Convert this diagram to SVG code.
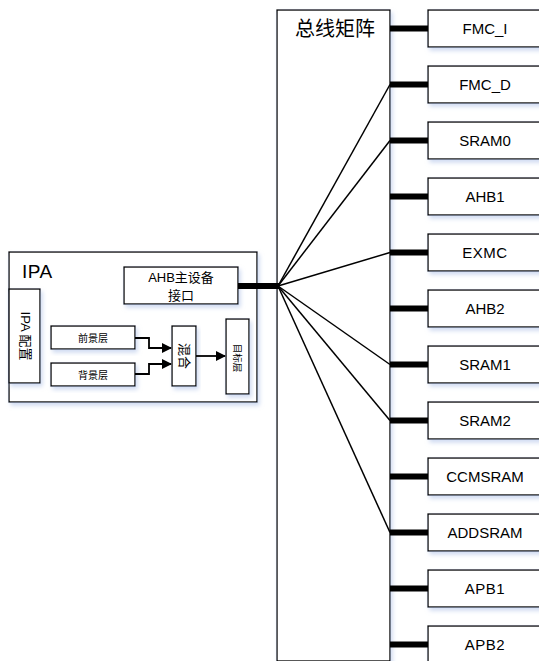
<svg xmlns="http://www.w3.org/2000/svg" width="539" height="661" viewBox="0 0 539 661">
<style>
.box{fill:#fff;stroke:#000;stroke-width:1.3;filter:url(#sh)}
.t{font-family:"Liberation Sans","Noto Sans CJK SC",sans-serif;fill:#000;text-anchor:middle}
.lbl{font-size:15px}
.thick{stroke:#000;stroke-width:6}
.fan{stroke:#000;stroke-width:1.5;fill:none}
.arr{stroke:#000;stroke-width:1.8;fill:none;marker-end:url(#ah)}
</style>
<defs>
<filter id="sh" x="-10%" y="-10%" width="130%" height="140%">
<feDropShadow dx="2" dy="3" stdDeviation="2" flood-color="#a9bde6" flood-opacity="0.55"/>
</filter>
<marker id="ah" markerWidth="10" markerHeight="10" refX="9" refY="5" orient="auto" markerUnits="userSpaceOnUse">
<path d="M0,0 L10,5 L0,10 Z" fill="#000"/>
</marker>
</defs>

<g id="bus">
<rect class="box" x="277" y="10" width="113" height="651"/>
<text class="t" x="335" y="36" font-size="20">总线矩阵</text>
</g>

<g id="FMC_I"><rect class="box" x="428" y="10" width="120" height="37"/><text class="t lbl" x="485" y="34">FMC_I</text></g>
<g id="FMC_D"><rect class="box" x="428" y="66" width="120" height="37"/><text class="t lbl" x="485" y="90">FMC_D</text></g>
<g id="SRAM0"><rect class="box" x="428" y="122" width="120" height="37"/><text class="t lbl" x="485" y="146">SRAM0</text></g>
<g id="AHB1"><rect class="box" x="428" y="178" width="120" height="37"/><text class="t lbl" x="485" y="202">AHB1</text></g>
<g id="EXMC"><rect class="box" x="428" y="234" width="120" height="37"/><text class="t lbl" x="485" y="258" letter-spacing="0.5">EXMC</text></g>
<g id="AHB2"><rect class="box" x="428" y="290" width="120" height="37"/><text class="t lbl" x="485" y="314">AHB2</text></g>
<g id="SRAM1"><rect class="box" x="428" y="346" width="120" height="37"/><text class="t lbl" x="485" y="370">SRAM1</text></g>
<g id="SRAM2"><rect class="box" x="428" y="402" width="120" height="37"/><text class="t lbl" x="485" y="426">SRAM2</text></g>
<g id="CCMSRAM"><rect class="box" x="428" y="458" width="120" height="37"/><text class="t lbl" x="485" y="482">CCMSRAM</text></g>
<g id="ADDSRAM"><rect class="box" x="428" y="514" width="120" height="37"/><text class="t lbl" x="485" y="538">ADDSRAM</text></g>
<g id="APB1"><rect class="box" x="428" y="570" width="120" height="37"/><text class="t lbl" x="485" y="594" letter-spacing="0.5">APB1</text></g>
<g id="APB2"><rect class="box" x="428" y="626" width="120" height="37"/><text class="t lbl" x="485" y="650" letter-spacing="0.5">APB2</text></g>

<g id="IPA">
<rect class="box" x="9" y="252" width="248" height="150"/>
<text class="t" x="22" y="278" font-size="19" style="text-anchor:start" letter-spacing="0.5">IPA</text>
</g>
<g id="AHB_master">
<rect class="box" x="124" y="267" width="114" height="37"/>
<text class="t" x="181" y="282" font-size="13">AHB主设备</text>
<text class="t" x="181" y="300" font-size="13">接口</text>
</g>
<g id="IPA_config">
<rect class="box" x="9" y="289" width="31" height="94"/>
<text class="t" font-size="13" transform="translate(25,336) rotate(90)" y="4.5">IPA 配置</text>
</g>
<g id="foreground">
<rect class="box" x="51" y="326" width="84" height="23"/>
<text class="t" x="93" y="341.5" font-size="10">前景层</text>
</g>
<g id="background">
<rect class="box" x="51" y="363" width="84" height="23"/>
<text class="t" x="93" y="378.5" font-size="10">背景层</text>
</g>
<g id="blend">
<rect class="box" x="172" y="326" width="24" height="60"/>
<text class="t" font-size="13" transform="translate(184,356) rotate(90)" y="4.5">混合</text>
</g>
<g id="target">
<rect class="box" x="226" y="319" width="23" height="75"/>
<text class="t" font-size="9.5" transform="translate(237.5,358) rotate(90)" y="3.2">目标层</text>
</g>

<g id="connectors">
<line class="thick" x1="390" y1="28.5" x2="428" y2="28.5"/>
<line class="thick" x1="390" y1="84.5" x2="428" y2="84.5"/>
<line class="thick" x1="390" y1="140.5" x2="428" y2="140.5"/>
<line class="thick" x1="390" y1="196.5" x2="428" y2="196.5"/>
<line class="thick" x1="390" y1="252.5" x2="428" y2="252.5"/>
<line class="thick" x1="390" y1="308.5" x2="428" y2="308.5"/>
<line class="thick" x1="390" y1="364.5" x2="428" y2="364.5"/>
<line class="thick" x1="390" y1="420.5" x2="428" y2="420.5"/>
<line class="thick" x1="390" y1="476.5" x2="428" y2="476.5"/>
<line class="thick" x1="390" y1="532.5" x2="428" y2="532.5"/>
<line class="thick" x1="390" y1="588.5" x2="428" y2="588.5"/>
<line class="thick" x1="390" y1="644.5" x2="428" y2="644.5"/>
<line class="thick" x1="238" y1="286" x2="279" y2="286"/>
<line class="fan" x1="278" y1="286" x2="390" y2="84.5"/>
<line class="fan" x1="278" y1="286" x2="390" y2="140.5"/>
<line class="fan" x1="278" y1="286" x2="390" y2="252.5"/>
<line class="fan" x1="278" y1="286" x2="390" y2="364.5"/>
<line class="fan" x1="278" y1="286" x2="390" y2="420.5"/>
<line class="fan" x1="278" y1="286" x2="390" y2="532.5"/>
<path class="arr" d="M135,338 H149 V348 H171"/>
<path class="arr" d="M135,374 H149 V364 H171"/>
<path class="arr" d="M196,356 H225"/>
</g>
</svg>
